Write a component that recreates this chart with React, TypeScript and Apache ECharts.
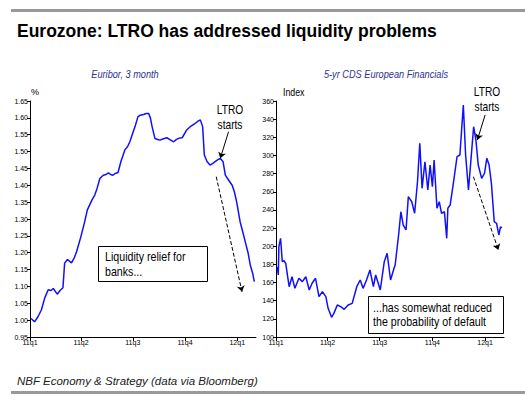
import React, { useEffect, useRef } from "react";
import * as echarts from "echarts";

// Days since 2011-01-01
const quarterDays = [0, 90, 181, 273, 365];
const quarterLabels = ["11q1", "11q2", "11q3", "11q4", "12q1"];

const euriborDays = [2, 8, 14, 20, 26, 32, 37, 41, 48, 53, 58, 61, 66, 73, 78, 82, 90, 96, 101, 109, 114, 118, 123, 129, 134, 138, 142, 146, 150, 155, 160, 167, 172, 176, 181, 185, 190, 194, 200, 205, 209, 212, 215, 220, 225, 229, 235, 241, 247, 253, 258, 263, 268, 276, 283, 291, 296, 300, 304, 307, 312, 317, 322, 326, 331, 335, 340, 344, 350, 356, 360, 364, 370, 375, 379, 384, 388, 392, 395];
const euriborValues = [1.005, 0.995, 1.01, 1.03, 1.066, 1.09, 1.088, 1.094, 1.077, 1.088, 1.096, 1.169, 1.18, 1.17, 1.185, 1.203, 1.25, 1.29, 1.327, 1.356, 1.371, 1.39, 1.42, 1.43, 1.432, 1.437, 1.432, 1.43, 1.435, 1.438, 1.47, 1.505, 1.515, 1.53, 1.555, 1.574, 1.603, 1.608, 1.61, 1.613, 1.613, 1.6, 1.574, 1.539, 1.536, 1.534, 1.538, 1.541, 1.535, 1.529, 1.536, 1.54, 1.541, 1.564, 1.575, 1.584, 1.59, 1.594, 1.574, 1.49, 1.47, 1.46, 1.465, 1.47, 1.476, 1.48, 1.47, 1.43, 1.415, 1.4, 1.38, 1.35, 1.292, 1.26, 1.233, 1.2, 1.163, 1.14, 1.114];

const cdsDays = [2, 4, 5, 8, 11, 14, 17, 20, 23, 28, 33, 37, 40, 46, 52, 58, 63, 69, 75, 81, 87, 91, 97, 101, 107, 113, 119, 126, 133, 141, 147, 152, 158, 164, 170, 174, 182, 189, 194, 200, 206, 208, 214, 218, 222, 227, 231, 237, 242, 247, 251, 255, 260, 265, 269, 273, 276, 281, 285, 289, 294, 298, 300, 304, 310, 316, 321, 327, 331, 336, 341, 345, 349, 353, 359, 364, 368, 372, 376, 381, 385, 389, 392, 394];
const cdsValues = [177.5, 168.3, 199.5, 208.7, 183, 184, 181, 168, 155.4, 166.4, 153.6, 160, 164.7, 161, 166.4, 151.8, 159.2, 164.7, 144.4, 149.9, 144.4, 131.6, 121.7, 126, 135.3, 133.4, 130.5, 135.3, 137.1, 155.4, 162.8, 153.6, 162.8, 173.8, 155.4, 168.3, 151.8, 183, 192.2, 162.8, 175.7, 179.3, 212.4, 238, 223.4, 217.9, 254.6, 249, 236.3, 271.1, 313.4, 263.8, 293.1, 262, 289.5, 265.6, 295, 241.8, 249, 236.3, 238, 208.7, 241.8, 245.4, 271.1, 298.6, 300.5, 355.6, 300.5, 262, 300.5, 331.7, 317, 289.5, 274.8, 280.4, 296.9, 289.5, 269.3, 227, 225.3, 212.4, 221.6, 220];

const euriborLabel = "Euribor, 3 month";
const cdsLabel = "5-yr CDS European Financials";
const titleText = "Eurozone: LTRO has addressed liquidity problems";
const footerText = "NBF Economy & Strategy (data via Bloomberg)";

const SANS = "'Liberation Sans', Arial, sans-serif";

function pairs(xs: number[], ys: number[]) {
  return xs.map((x, i) => [x, ys[i]]);
}

export default function App() {
  const ref = useRef<HTMLDivElement>(null);
  useEffect(() => {
    document.body.style.margin = "0";
    const chart = echarts.init(ref.current!, null, { renderer: "svg" });
    const xAxisBase = (gridIndex: number) => ({
      type: "value" as const,
      gridIndex,
      min: 0,
      max: 398,
      splitLine: { show: false },
      axisLine: { lineStyle: { color: "#000", width: 1 } },
      axisTick: { customValues: quarterDays, length: 4, lineStyle: { color: "#000" } },
      axisLabel: {
        customValues: quarterDays,
        margin: 2,
        fontSize: 7,
        fontFamily: SANS,
        color: "#000",
        formatter: (v: number) => {
          const i = quarterDays.indexOf(Math.round(v));
          return i >= 0 ? quarterLabels[i] : "";
        },
      },
    });
    const arrowLine = (a: number[], b: number[], dashed: boolean) => [
      { coord: a, lineStyle: { type: dashed ? "dashed" : "solid", color: "#000", width: 1 } },
      { coord: b },
    ];
    const condensedText = (x: number, y: number, text: string, font: string, extra: any = {}, scaleX = 0.82) => ({
      type: "text",
      x,
      y,
      scaleX,
      z: extra.z ?? 1,
      style: { text, font, fill: "#000", textVerticalAlign: "middle", ...extra.style },
    });
    chart.setOption({
      animation: false,
      backgroundColor: "#fff",
      grid: [
        { left: 30, top: 101, width: 226, height: 236 },
        { left: 276, top: 101, width: 228, height: 236 },
      ],
      xAxis: [xAxisBase(0), xAxisBase(1)],
      yAxis: [
        {
          type: "value",
          gridIndex: 0,
          min: 0.95,
          max: 1.65,
          interval: 0.05,
          splitLine: { show: false },
          axisLine: { show: true, lineStyle: { color: "#000" } },
          axisTick: { show: true, length: 3, lineStyle: { color: "#000" } },
          axisLabel: {
            margin: 2,
            fontSize: 7,
            fontFamily: SANS,
            color: "#000",
            formatter: (v: number) => v.toFixed(2),
          },
        },
        {
          type: "value",
          gridIndex: 1,
          min: 100,
          max: 360,
          interval: 20,
          splitLine: { show: false },
          axisLine: { show: true, lineStyle: { color: "#000" } },
          axisTick: { show: true, length: 3, lineStyle: { color: "#000" } },
          axisLabel: { margin: 2, fontSize: 7, fontFamily: SANS, color: "#000" },
        },
      ],
      series: [
        {
          type: "line",
          xAxisIndex: 0,
          yAxisIndex: 0,
          data: pairs(euriborDays, euriborValues),
          showSymbol: false,
          lineStyle: { color: "#1010ff", width: 1.5 },
          markLine: {
            silent: true,
            symbol: ["none", "arrow"],
            symbolSize: 6,
            label: { show: false },
            data: [
              arrowLine([349.7, 1.559], [335.1, 1.48], false),
              arrowLine([328, 1.4255], [373.4, 1.084], true),
            ],
          },
        },
        {
          type: "line",
          xAxisIndex: 1,
          yAxisIndex: 1,
          data: pairs(cdsDays, cdsValues),
          showSymbol: false,
          lineStyle: { color: "#1010ff", width: 1.5 },
          markLine: {
            silent: true,
            symbol: ["none", "arrow"],
            symbolSize: 6,
            label: { show: false },
            data: [
              arrowLine([365, 344.6], [351.5, 317], false),
              arrowLine([344.6, 276.6], [388.2, 195.8], true),
            ],
          },
        },
      ],
      graphic: [
        { type: "rect", shape: { x: 11, y: 9, width: 514, height: 3 }, style: { fill: "#999" } },
        { type: "rect", shape: { x: 11, y: 391, width: 514, height: 3 }, style: { fill: "#999" } },
        {
          type: "text",
          x: 17,
          y: 31,
          style: { text: titleText, font: `bold 17.5px ${SANS}`, fill: "#000", textVerticalAlign: "middle" },
        },
        condensedText(125, 74, euriborLabel, `italic 11.5px ${SANS}`, { style: { fill: "#2e3192", textAlign: "center" } }, 0.8),
        condensedText(386, 74, cdsLabel, `italic 11.5px ${SANS}`, { style: { fill: "#2e3192", textAlign: "center" } }, 0.8),
        {
          type: "text",
          x: 31,
          y: 92,
          style: { text: "%", font: `9px ${SANS}`, fill: "#000", textVerticalAlign: "middle" },
        },
        condensedText(283, 92, "Index", `10px ${SANS}`, {}, 0.88),
        condensedText(230, 117, "LTRO\nstarts", `12px ${SANS}`, { style: { lineHeight: 15, textAlign: "center" } }, 0.85),
        condensedText(487, 99, "LTRO\nstarts", `12px ${SANS}`, { style: { lineHeight: 15, textAlign: "center" } }, 0.85),
        {
          type: "rect",
          z: 10,
          shape: { x: 98.5, y: 246.5, width: 109, height: 35 },
          style: { fill: "#fff", stroke: "#000", lineWidth: 1 },
        },
        condensedText(105, 264, "Liquidity relief for\nbanks...", `13px ${SANS}`, { z: 11, style: { lineHeight: 15 } }, 0.82),
        {
          type: "rect",
          z: 10,
          shape: { x: 368.5, y: 296.5, width: 135, height: 37 },
          style: { fill: "#fff", stroke: "#000", lineWidth: 1 },
        },
        condensedText(373, 315, "...has somewhat reduced\nthe probability of default", `13px ${SANS}`, { z: 11, style: { lineHeight: 14 } }, 0.82),
        {
          type: "text",
          x: 17,
          y: 381,
          style: { text: footerText, font: `italic 11.5px ${SANS}`, fill: "#222", textVerticalAlign: "middle" },
        },
      ],
    });
    return () => chart.dispose();
  }, []);
  return <div ref={ref} style={{ position: "fixed", left: 0, top: 0, width: 525, height: 401 }} />;
}
